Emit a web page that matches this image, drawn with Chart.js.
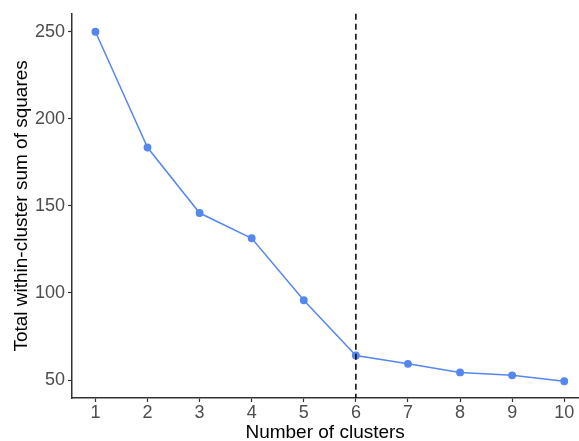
<!DOCTYPE html>
<html>
<head>
<meta charset="utf-8">
<script src="https://cdn.jsdelivr.net/npm/chart.js@4"></script>
<style>
  html, body { margin: 0; padding: 0; background: #fff; overflow: hidden; }
  #wrap { width: 579px; height: 441px; overflow: hidden; }
</style>
</head>
<body>
<div id="wrap"><canvas id="elbow" width="583" height="441"></canvas></div>
<script>
// Elbow plot - within-cluster sum of squares
var clusters = [1, 2, 3, 4, 5, 6, 7, 8, 9, 10];
var wss = [250, 183.5, 145.9, 131.4, 95.8, 64.1, 59.3, 54.4, 52.7, 49.3];
var yTicks = [50, 100, 150, 200, 250];
var optimalK = 6;

var points = clusters.map(function(k, i) { return { x: k, y: wss[i] }; });

// dashed vertical line at the chosen k
var vlinePlugin = {
  id: 'vline',
  afterDatasetsDraw: function(chart) {
    var ctx = chart.ctx, area = chart.chartArea;
    var x = chart.scales.x.getPixelForValue(optimalK);
    ctx.save();
    ctx.beginPath();
    ctx.setLineDash([6, 4]);
    ctx.strokeStyle = '#000';
    ctx.lineWidth = 1.5;
    ctx.moveTo(x, area.top);
    ctx.lineTo(x, area.bottom);
    ctx.stroke();
    ctx.restore();
  }
};

var FONT = 'Liberation Sans, Arial, sans-serif';

new Chart(document.getElementById('elbow'), {
  type: 'line',
  data: {
    datasets: [{
      data: points,
      borderColor: '#5587ef',
      backgroundColor: '#5587ef',
      borderWidth: 1.5,
      pointRadius: 3.2,
      pointHoverRadius: 3.2,
      tension: 0
    }]
  },
  options: {
    responsive: false,
    animation: false,
    layout: { padding: { top: 13, right: 0, left: 0, bottom: 0 } },
    plugins: { legend: { display: false }, tooltip: { enabled: false } },
    scales: {
      x: {
        type: 'linear',
        min: 0.55,
        max: 10.27,
        afterBuildTicks: function(s) { s.ticks = clusters.map(function(v) { return { value: v }; }); },
        afterFit: function(s) { s.height = 43; },
        grid: { display: true, drawOnChartArea: false, drawTicks: true, tickLength: 4, tickColor: '#333', tickWidth: 1.2 },
        border: { display: true, color: '#333', width: 1.5 },
        ticks: { color: '#4d4d4d', font: { family: FONT, size: 18 }, padding: 0, maxRotation: 0, autoSkip: false },
        title: { display: true, text: 'Number of clusters', color: '#000', font: { family: FONT, size: 19 }, padding: { top: 0, bottom: -3 } }
      },
      y: {
        min: 39.7,
        max: 260.3,
        afterBuildTicks: function(s) { s.ticks = yTicks.map(function(v) { return { value: v }; }); },
        afterFit: function(s) { s.width = 72; },
        grid: { display: true, drawOnChartArea: false, drawTicks: true, tickLength: 4, tickColor: '#333', tickWidth: 1.2 },
        border: { display: true, color: '#333', width: 1.5 },
        ticks: { color: '#4d4d4d', font: { family: FONT, size: 18 }, padding: 3 },
        title: { display: true, text: 'Total within-cluster sum of squares', color: '#000', font: { family: FONT, size: 19 }, padding: { top: 10, bottom: 2 } }
      }
    }
  },
  plugins: [vlinePlugin]
});
</script>
</body>
</html>
